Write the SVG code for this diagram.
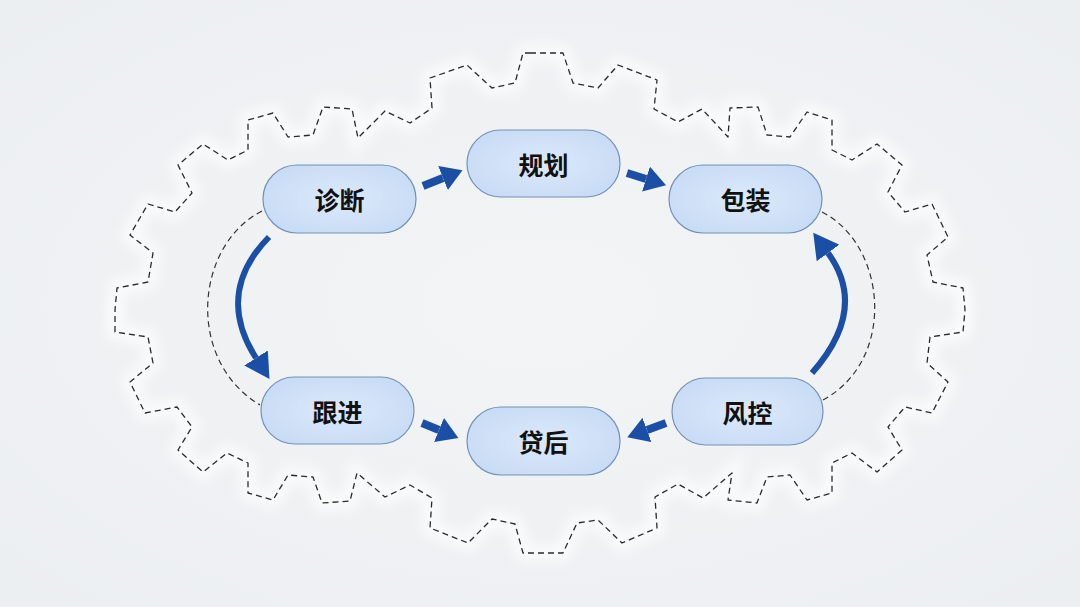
<svg xmlns="http://www.w3.org/2000/svg" width="1080" height="607" viewBox="0 0 1080 607">
  <defs>
    <radialGradient id="bg" cx="50%" cy="50%" r="70%">
      <stop offset="0" stop-color="#f2f4f5"/>
      <stop offset="1" stop-color="#eceff1"/>
    </radialGradient>
    <radialGradient id="pill" cx="50%" cy="50%" r="60%">
      <stop offset="0" stop-color="#dce9fa"/>
      <stop offset="1" stop-color="#c7dbf5"/>
    </radialGradient>
    <filter id="glow" x="-10%" y="-10%" width="120%" height="120%">
      <feGaussianBlur stdDeviation="6"/>
    </filter>
    <marker id="headS" markerUnits="userSpaceOnUse" markerWidth="22" markerHeight="26" refX="0" refY="13" orient="auto">
      <path d="M0,0 L21,13 L0,26 Z" fill="#1b4fa6"/>
    </marker>
    <marker id="headC" markerUnits="userSpaceOnUse" markerWidth="26" markerHeight="28" refX="0" refY="14" orient="auto">
      <path d="M0,0 L25,14 L0,28 Z" fill="#1b4fa6"/>
    </marker>
  </defs>
  <style>
    .node rect { fill: url(#pill); stroke: #7391b8; stroke-width: 1.2; }
    .node text { font-family: "Noto Sans CJK SC", "Noto Sans", sans-serif; font-size: 25px; font-weight: 700; fill: #111; text-anchor: middle; dominant-baseline: central; }
    .gear { fill: none; stroke: #2a2a2a; stroke-width: 1.3; stroke-dasharray: 6 4; stroke-linejoin: round; }
    .halo { fill: none; stroke: #ffffff; stroke-width: 16; opacity: 0.7; filter: url(#glow); }
    .guide { fill: none; stroke: #333; stroke-width: 1.2; stroke-dasharray: 6 4; }
    .s { fill: none; stroke: #1b4fa6; stroke-width: 8; }
    .c { fill: none; stroke: #1b4fa6; stroke-width: 6; }
  </style>
  <rect width="1080" height="607" fill="url(#bg)"/>

  <g id="gear">
    <path id="gearPath" class="halo" d="M530,53 L563,53 L573,83 L598,88 L618,65 L657,80 L654,109 L678,122 L702,109 L728,137 L730,108 L758,107 L767,135 L790,137 L807,112 L832,120 L832,150 L852,160 L877,144 L902,165 L888,192 L905,212 L932,204 L948,237 L927,255 L933,282 L963,288 L965,310 L963,332 L930,337 L927,363 L948,382 L932,413 L905,407 L888,427 L902,450 L877,472 L852,453 L832,463 L832,493 L807,500 L790,475 L767,477 L757,503 L728,500 L732,473 L703,498 L678,484 L655,497 L657,528 L622,543 L598,520 L577,523 L563,553 L523,553 L515,524 L492,519 L468,543 L430,528 L432,498 L410,485 L385,497 L357,473 L350,501 L322,503 L313,477 L288,475 L273,500 L248,493 L248,463 L227,453 L203,472 L178,450 L192,427 L177,407 L145,413 L130,382 L153,363 L148,337 L115,332 L115,310 L117,288 L148,282 L153,253 L130,235 L148,204 L175,212 L192,193 L178,165 L203,144 L228,160 L248,150 L248,120 L273,113 L288,137 L313,135 L323,107 L352,109 L358,138 L385,111 L410,123 L432,108 L430,78 L467,65 L492,88 L515,83 L523,53 Z"/>
    <path class="gear" d="M530,53 L563,53 L573,83 L598,88 L618,65 L657,80 L654,109 L678,122 L702,109 L728,137 L730,108 L758,107 L767,135 L790,137 L807,112 L832,120 L832,150 L852,160 L877,144 L902,165 L888,192 L905,212 L932,204 L948,237 L927,255 L933,282 L963,288 L965,310 L963,332 L930,337 L927,363 L948,382 L932,413 L905,407 L888,427 L902,450 L877,472 L852,453 L832,463 L832,493 L807,500 L790,475 L767,477 L757,503 L728,500 L732,473 L703,498 L678,484 L655,497 L657,528 L622,543 L598,520 L577,523 L563,553 L523,553 L515,524 L492,519 L468,543 L430,528 L432,498 L410,485 L385,497 L357,473 L350,501 L322,503 L313,477 L288,475 L273,500 L248,493 L248,463 L227,453 L203,472 L178,450 L192,427 L177,407 L145,413 L130,382 L153,363 L148,337 L115,332 L115,310 L117,288 L148,282 L153,253 L130,235 L148,204 L175,212 L192,193 L178,165 L203,144 L228,160 L248,150 L248,120 L273,113 L288,137 L313,135 L323,107 L352,109 L358,138 L385,111 L410,123 L432,108 L430,78 L467,65 L492,88 L515,83 L523,53 Z"/>
    <path class="guide" d="M262,211 C195,245 185,360 260,405"/>
    <path class="guide" d="M822,212 C887,245 897,360 823,400"/>
  </g>

  <g id="connectors">
    <path class="s" d="M423,186 L443,178" marker-end="url(#headS)"/>
    <path class="s" d="M627,173 L646,179" marker-end="url(#headS)"/>
    <path class="s" d="M422,423 L439,430" marker-end="url(#headS)"/>
    <path class="s" d="M666,423 L647,430" marker-end="url(#headS)"/>
    <path class="c" d="M269,237 C222,285 238,330 256,358" marker-end="url(#headC)"/>
    <path class="c" d="M812,373 C850,330 855,290 828,253" marker-end="url(#headC)"/>
  </g>

  <g id="node-zhenduan" class="node">
    <rect x="263" y="165" width="153" height="68" rx="34"/>
    <text x="339.5" y="199">诊断</text>
  </g>
  <g id="node-guihua" class="node">
    <rect x="467" y="130" width="153" height="67" rx="33.5"/>
    <text x="543.5" y="163.5">规划</text>
  </g>
  <g id="node-baozhuang" class="node">
    <rect x="669" y="165" width="153" height="68" rx="34"/>
    <text x="745.5" y="199">包装</text>
  </g>
  <g id="node-fengkong" class="node">
    <rect x="672" y="378" width="151" height="67" rx="33.5"/>
    <text x="747.5" y="411.5">风控</text>
  </g>
  <g id="node-genjin" class="node">
    <rect x="261" y="377" width="153" height="67" rx="33.5"/>
    <text x="337.5" y="410.5">跟进</text>
  </g>
  <g id="node-daihou" class="node">
    <rect x="467" y="407" width="153" height="68" rx="34"/>
    <text x="543.5" y="441">贷后</text>
  </g>
</svg>
